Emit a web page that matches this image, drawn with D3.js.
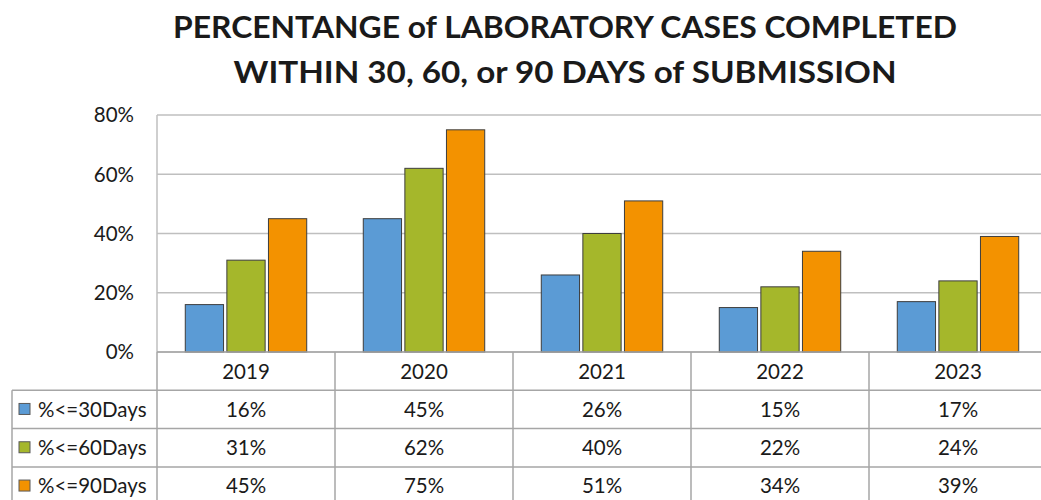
<!DOCTYPE html>
<html lang="en">
<head>
  <meta charset="UTF-8">
  <title>Laboratory cases completed</title>
  <script src="https://d3js.org/d3.v7.min.js"></script>
  <style>
    body { margin: 0; background: #fff; }
    svg text { font-family: Lato, "Noto Sans", sans-serif; fill: #1a1a1a; }
  </style>
</head>
<body>
  <div id="chart"></div>
  <script>
    const years = ["2019", "2020", "2021", "2022", "2023"];
    const seriesNames = ["%<=30Days", "%<=60Days", "%<=90Days"];
    const days30 = [16, 45, 26, 15, 17];
    const days60 = [31, 62, 40, 22, 24];
    const days90 = [45, 75, 51, 34, 39];
    const yTicks = [0, 20, 40, 60, 80];
    const colors = ["#5B9BD5", "#A5B72B", "#F39200"];

    const series = [days30, days60, days90];

    const width = 1041, height = 500;
    const plotLeft = 157, colW = 178;
    const plotTop = 115, plotBottom = 352;
    const rowH = 38.3;
    const fs = 20.5;

    const svg = d3.select("#chart").append("svg")
      .attr("width", width).attr("height", height);

    // title
    const title = svg.append("g").attr("font-weight", "bold");
    [["PERCENTANGE of LABORATORY CASES COMPLETED", 38, 784],
     ["WITHIN 30, 60, or 90 DAYS of SUBMISSION", 83, 663]].forEach(([t, y, w]) => {
      title.append("text")
        .attr("x", 565).attr("y", y)
        .attr("text-anchor", "middle")
        .attr("font-size", 31)
        .attr("textLength", w)
        .attr("lengthAdjust", "spacingAndGlyphs")
        .text(t);
    });

    const x = d3.scaleBand()
      .domain(years)
      .range([plotLeft, plotLeft + colW * years.length])
      .paddingInner(0).paddingOuter(0);

    const xInner = d3.scaleBand()
      .domain(d3.range(series.length))
      .range([0, colW])
      .paddingInner(0.08)
      .paddingOuter(0.68);

    const y = d3.scaleLinear().domain([0, 80]).range([plotBottom, plotTop]);

    // gridlines
    svg.append("g")
      .selectAll("line")
      .data(yTicks)
      .join("line")
      .attr("x1", plotLeft).attr("x2", width)
      .attr("y1", d => y(d)).attr("y2", d => y(d))
      .attr("stroke", "#BFBFBF")
      .attr("stroke-width", 1.5);

    svg.append("line")
      .attr("x1", plotLeft).attr("x2", plotLeft)
      .attr("y1", plotTop).attr("y2", plotBottom)
      .attr("stroke", "#BFBFBF").attr("stroke-width", 1.5);

    // y axis labels
    svg.append("g")
      .selectAll("text")
      .data(yTicks)
      .join("text")
      .attr("x", 134)
      .attr("y", d => y(d))
      .attr("dy", "0.36em")
      .attr("text-anchor", "end")
      .attr("font-size", fs)
      .text(d => d + "%");

    // bars
    series.forEach((vals, si) => {
      svg.append("g")
        .selectAll("rect")
        .data(vals)
        .join("rect")
        .attr("x", (d, i) => x(years[i]) + xInner(si))
        .attr("width", xInner.bandwidth())
        .attr("y", d => y(d))
        .attr("height", d => y(0) - y(d))
        .attr("fill", colors[si])
        .attr("stroke", "#3d3d3d")
        .attr("stroke-width", 1);
    });

    // data table
    const tbl = svg.append("g");
    const tableLeft = 12;
    const lineCol = "#A6A6A6";
    // horizontal lines
    for (let r = 0; r <= 4; r++) {
      const yy = plotBottom + r * rowH;
      tbl.append("line")
        .attr("x1", r === 0 ? plotLeft : tableLeft).attr("x2", width)
        .attr("y1", yy).attr("y2", yy)
        .attr("stroke", lineCol).attr("stroke-width", 1.5);
    }
    // vertical lines
    tbl.append("line")
      .attr("x1", tableLeft).attr("x2", tableLeft)
      .attr("y1", plotBottom + rowH).attr("y2", height)
      .attr("stroke", lineCol).attr("stroke-width", 1.5);
    years.forEach(yr => {
      tbl.append("line")
        .attr("x1", x(yr)).attr("x2", x(yr))
        .attr("y1", plotBottom).attr("y2", height)
        .attr("stroke", lineCol).attr("stroke-width", 1.5);
    });

    // header
    tbl.selectAll("text.yr")
      .data(years)
      .join("text")
      .attr("class", "yr")
      .attr("x", d => x(d) + x.bandwidth() / 2)
      .attr("y", plotBottom + rowH / 2)
      .attr("dy", "0.36em")
      .attr("text-anchor", "middle")
      .attr("font-size", fs)
      .text(d => d);

    series.forEach((vals, si) => {
      const cy = plotBottom + rowH * (si + 1) + rowH / 2;
      tbl.append("rect")
        .attr("x", 19).attr("y", cy - 6)
        .attr("width", 11).attr("height", 11)
        .attr("fill", colors[si])
        .attr("stroke", "#595959").attr("stroke-width", 1);
      tbl.append("text")
        .attr("x", 38).attr("y", cy)
        .attr("dy", "0.36em")
        .attr("font-size", fs)
        .text(seriesNames[si]);
      tbl.append("g")
        .selectAll("text")
        .data(vals)
        .join("text")
        .attr("x", (d, i) => x(years[i]) + x.bandwidth() / 2)
        .attr("y", cy)
        .attr("dy", "0.36em")
        .attr("text-anchor", "middle")
        .attr("font-size", fs)
        .text(d => d + "%");
    });
  </script>
</body>
</html>
